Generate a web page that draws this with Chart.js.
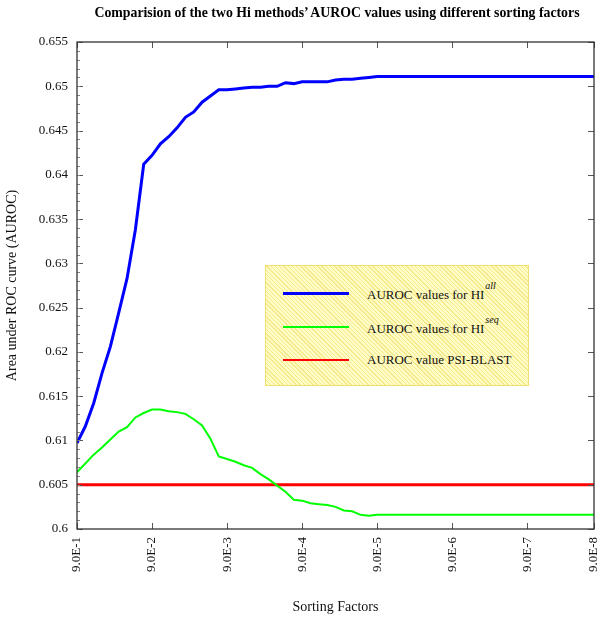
<!DOCTYPE html>
<html><head><meta charset="utf-8">
<script src="https://cdn.jsdelivr.net/npm/chart.js@4"></script>
<style>
html,body{margin:0;padding:0;background:#fff;}
#wrap{position:relative;width:600px;height:620px;}
#title{position:absolute;left:0;width:674px;top:4px;text-align:center;font-family:'Liberation Serif',serif;font-weight:bold;font-size:13.8px;line-height:18px;color:#000;white-space:nowrap;}
#legend{position:absolute;left:265px;top:265px;width:262px;height:119px;border:1px solid #f1df70;
 background:repeating-linear-gradient(45deg,#f6e98c 0px,#f6e98c 1px,#fffcc6 1px,#fffcc6 3px);
 font-family:'Liberation Serif',serif;font-size:13px;color:#111;}
.sw{position:absolute;left:17px;width:66px;}
.tx{position:absolute;left:101px;line-height:16px;white-space:nowrap;}
.sup{position:relative;top:-10px;font-style:italic;font-size:10px;margin-left:1px;}
</style></head>
<body>
<div id="wrap">
<canvas id="c" width="600" height="620"></canvas>
<div id="title">Comparision of the two Hi methods’ AUROC values using different sorting factors</div>
<div id="legend">
 <div class="sw" style="top:25.5px;height:3px;background:#0000ff"></div>
 <div class="tx" style="top:21px">AUROC values for HI<span class="sup">all</span></div>
 <div class="sw" style="top:60px;height:2px;background:#00ff00"></div>
 <div class="tx" style="top:55px">AUROC values for HI<span class="sup">seq</span></div>
 <div class="sw" style="top:92.5px;height:2.5px;background:#ff0000"></div>
 <div class="tx" style="top:86px">AUROC value PSI-BLAST</div>
</div>
</div>
<script>
// ---- data ----
const xTickPositions = [0, 9, 18, 27, 36, 45, 54, 62];
const xTickLabels = ['9.0E-1','9.0E-2','9.0E-3','9.0E-4','9.0E-5','9.0E-6','9.0E-7','9.0E-8'];
const hiAll = [0.6097,0.6116,0.6142,0.6176,0.6206,0.6244,0.6283,0.6338,0.6412,0.6422,
 0.6435,0.6443,0.6453,0.6465,0.6471,0.6482,0.6489,0.6496,0.6496,0.6497,
 0.6498,0.6499,0.6499,0.6500,0.6500,0.6504,0.6503,0.6505,0.6505,0.6505,
 0.6505,0.6507,0.6508,0.6508,0.6509,0.6510,0.6511,0.6511,0.6511,0.6511,
 0.6511,0.6511,0.6511,0.6511,0.6511,0.6511,0.6511,0.6511,0.6511,0.6511,
 0.6511,0.6511,0.6511,0.6511,0.6511,0.6511,0.6511,0.6511,0.6511,0.6511,
 0.6511,0.6511,0.6511];
const hiSeq = [0.6064,0.6074,0.6084,0.6092,0.6101,0.6110,0.6115,0.6126,0.6131,0.6135,
 0.6135,0.6133,0.6132,0.6130,0.6124,0.6117,0.6102,0.6082,0.6079,0.6076,
 0.6072,0.6069,0.6062,0.6056,0.6049,0.6042,0.6033,0.6032,0.6029,0.6028,
 0.6027,0.6025,0.6021,0.6020,0.6016,0.6015,0.6016,0.6016,0.6016,0.6016,
 0.6016,0.6016,0.6016,0.6016,0.6016,0.6016,0.6016,0.6016,0.6016,0.6016,
 0.6016,0.6016,0.6016,0.6016,0.6016,0.6016,0.6016,0.6016,0.6016,0.6016,
 0.6016,0.6016,0.6016];
const psiBlast = 0.605;
const yMin = 0.6, yMax = 0.655, yStep = 0.005;

const toPts = arr => arr.map((v,i)=>({x:i,y:v}));
const serif = "'Liberation Serif', 'Times New Roman', serif";

const framePlugin = {
  id:'frame',
  afterDatasetsDraw(chart){
    const {ctx, chartArea:{left,right,top,bottom}, scales:{x,y}} = chart;
    ctx.save();
    ctx.strokeStyle = '#555'; ctx.lineWidth = 1;
    x.ticks.forEach(t=>{
      const px = Math.round(x.getPixelForValue(t.value))+0.5;
      ctx.beginPath();
      ctx.moveTo(px,bottom); ctx.lineTo(px,bottom-6);
      ctx.moveTo(px,top); ctx.lineTo(px,top+6);
      ctx.stroke();
    });
    y.ticks.forEach(t=>{
      const py = Math.round(y.getPixelForValue(t.value))+0.5;
      ctx.beginPath();
      ctx.moveTo(left,py); ctx.lineTo(left+6,py);
      ctx.moveTo(right,py); ctx.lineTo(right-6,py);
      ctx.stroke();
    });
    ctx.strokeStyle = '#888';
    const n = Math.round((yMax-yMin)/0.001);
    for(let i=0;i<=n;i++){
      const py = Math.round(y.getPixelForValue(yMin+i*0.001))+0.5;
      ctx.beginPath(); ctx.moveTo(left,py); ctx.lineTo(left+3,py); ctx.stroke();
    }
    ctx.strokeStyle = '#333'; ctx.lineWidth = 1.3;
    ctx.strokeRect(left,top,right-left,bottom-top);
    ctx.restore();
  }
};

new Chart(document.getElementById('c'), {
  type:'line',
  data:{datasets:[
    {label:'AUROC values for HI all', data:toPts(hiAll), borderColor:'#0000ff', borderWidth:3, pointRadius:0, tension:0, fill:false},
    {label:'AUROC values for HI seq', data:toPts(hiSeq), borderColor:'#00ff00', borderWidth:2, pointRadius:0, tension:0, fill:false},
    {label:'AUROC value PSI-BLAST', data:[{x:0,y:psiBlast},{x:xTickPositions[xTickPositions.length-1],y:psiBlast}], borderColor:'#ff0000', borderWidth:3, pointRadius:0, tension:0, fill:false}
  ]},
  options:{
    responsive:false, animation:false,
    layout:{padding:{left:0,right:6,top:42,bottom:0}},
    plugins:{
      legend:{display:false}, tooltip:{enabled:false}, title:{display:false}
    },
    scales:{
      x:{type:'linear', min:0, max:xTickPositions[xTickPositions.length-1],
        afterBuildTicks(s){ s.ticks = xTickPositions.map(v=>({value:v})); },
        afterFit(s){ s.height = 91; s.paddingLeft = 0; s.paddingRight = 0; },
        grid:{display:false, drawTicks:false}, border:{display:false},
        ticks:{autoSkip:false, minRotation:90, maxRotation:90, padding:8, color:'#111',
          font:{family:serif,size:13},
          callback:v=>{const i=xTickPositions.indexOf(v); return i>=0?xTickLabels[i]:'';}},
        title:{display:true, text:'Sorting Factors', color:'#111', font:{family:serif,size:14}, padding:{top:4,bottom:4}}
      },
      y:{type:'linear', min:yMin, max:yMax,
        afterFit(s){ s.width = 77; s.paddingTop = 0; s.paddingBottom = 0; },
        grid:{display:false, drawTicks:false}, border:{display:false},
        ticks:{stepSize:yStep, padding:9, color:'#111', font:{family:serif,size:13},
          callback:v=>String(Number(v.toFixed(3)))},
        title:{display:true, text:'Area under ROC curve (AUROC)', color:'#111', font:{family:serif,size:14}, padding:{top:4,bottom:4}}
      }
    }
  },
  plugins:[framePlugin]
});
</script>
</body></html>
